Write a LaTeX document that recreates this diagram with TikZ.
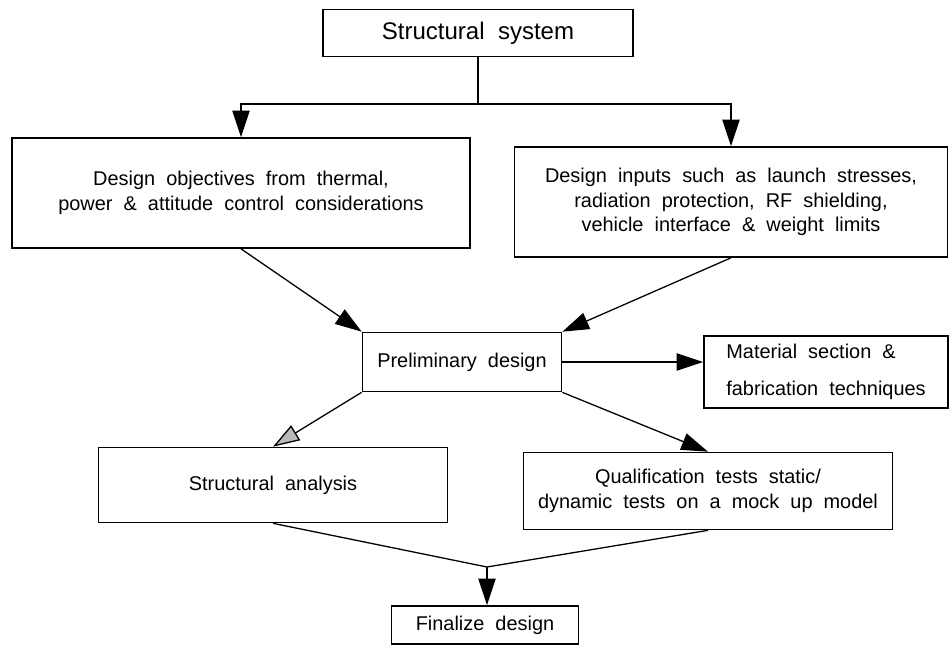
\documentclass[tikz,border=0pt]{standalone}
\usepackage{fontspec}
\setmainfont{Liberation Sans}[WordSpace=2]
\usetikzlibrary{positioning,arrows.meta}

\begin{document}
\begin{tikzpicture}[x=0.03cm,y=-0.03cm,
	blk/.style={draw,line width=1.4pt,align=center,inner sep=0pt,font=\fontsize{17}{21}\selectfont},
	sz/.style 2 args={minimum width=#1*0.03cm,minimum height=#2*0.03cm},
	conn/.style={line width=1.1pt},
	arr/.style={conn,-{Triangle[length=0.8cm,width=0.52cm]}},
	harr/.style={conn,-{Triangle[length=0.8cm,width=0.52cm,fill=gray!55]}}]
	\useasboundingbox (0,0) rectangle (950,646);
	\node[blk,sz={310}{47},font=\fontsize{20.5}{24}\selectfont] (sys) at (478,33){Structural system};
	\node[blk,sz={458}{110}] (obj) at (241,193){Design objectives from thermal,\\power \& attitude control considerations};
	\node[blk,sz={433}{110}] (inp) at (731,202){Design inputs such as launch stresses,\\radiation protection, RF shielding,\\vehicle interface \& weight limits};
	\node[blk,sz={199}{59}] (pre) at (462,362){Preliminary design};
	\node[blk,sz={244}{72},align=left,font=\fontsize{17}{32}\selectfont] (mat) at (826,372){Material section \&\\fabrication techniques};
	\node[blk,sz={349}{75}] (ana) at (273,485){Structural analysis};
	\node[blk,sz={369}{77}] (qual) at (708,491){Qualification tests static/\\dynamic tests on a mock up model};
	\node[blk,sz={187}{38}] (fin) at (485,625){Finalize design};
	\coordinate (split) at (478,104);
	\coordinate (join) at (487,567);

	\draw[conn] (sys.south) -- (split);
	\draw[arr] (split) -| (obj.north);
	\draw[arr] (split) -| (inp.north);
	\draw[arr] (obj.south) -- (pre.north west);
	\draw[arr] (inp.south) -- (pre.north east);
	\draw[arr] (pre.east) -- (pre.east -| mat.west);
	\draw[harr] (pre.south west) -- (ana.north);
	\draw[arr] (pre.south east) -- (qual.north);
	\draw[conn] (ana.south) -- (join) -- (qual.south);
	\draw[arr] (join) -- (join |- fin.north);

\end{tikzpicture}
\end{document}
